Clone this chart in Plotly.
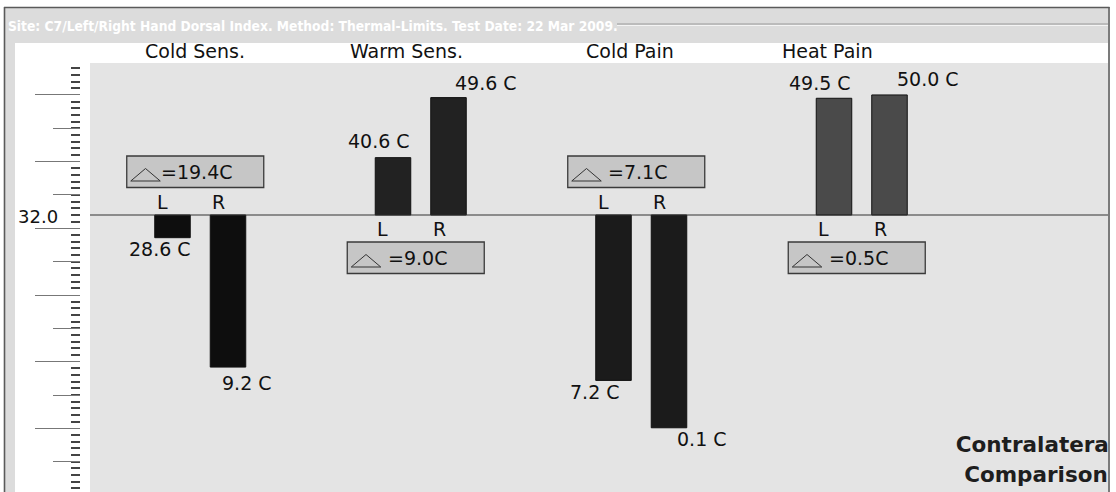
import plotly.graph_objects as go

# ---------------- data ----------------
TITLE = "Site: C7/Left/Right Hand Dorsal Index. Method: Thermal-Limits. Test Date: 22 Mar 2009."
CATEGORIES = ["Cold Sens.", "Warm Sens.", "Cold Pain", "Heat Pain"]
LEFT_VALUES = [28.6, 40.6, 7.2, 49.5]
RIGHT_VALUES = [9.2, 49.6, 0.1, 50.0]
BASELINE = 32.0
SIDE_LABELS = ["L", "R"]
NOTE_LINES = ["Contralateral", "Comparison"]

# ---------------- style / layout constants ----------------
BAR_COLORS = ["#0e0e0e", "#222222", "#1b1b1b", "#4a4a4a"]
FONT = "DejaVu Sans"
W, H = 1116, 492
PX_PER_DEG = 6.67
ZERO_PX = 215
PLOT_TOP, PLOT_LEFT, PLOT_RIGHT = 63, 90, 1108
GROUP_PX = 220.5
FIRST_GROUP_PX = 200.25
HEADER_DX = [-5, -14, -11, -34]
VALUE_DX = [[-72.5, 20.5], [-74, 33.5], [-72.5, 34.5], [-74, 34]]
VALUE_DY = [[11.5, 16], [16.5, 15], [12, 11], [15, 16]]
NOTE_CENTER_PX = 1036
NOTE_LINE_PX = [446.7, 476.7]


def px(x):
    return x / W


def py(y):
    return 1 - y / H


def val_at(ypx):
    return BASELINE - (ypx - ZERO_PX) / PX_PER_DEG


y_top = val_at(PLOT_TOP)
y_bot = val_at(H)
x_lo = (PLOT_LEFT - FIRST_GROUP_PX) / GROUP_PX
x_hi = (PLOT_RIGHT - FIRST_GROUP_PX) / GROUP_PX

xs = list(range(len(CATEGORIES)))

fig = go.Figure()
for vals, side in zip([LEFT_VALUES, RIGHT_VALUES], SIDE_LABELS):
    fig.add_trace(go.Bar(
        x=xs, y=[v - BASELINE for v in vals], base=BASELINE,
        marker=dict(color=BAR_COLORS, line=dict(color="#111111", width=1)),
        name=side, showlegend=False, hoverinfo="skip"))

# dummy traces for ruler axes
for ya in ["y2", "y3"]:
    fig.add_trace(go.Scatter(x=[None], y=[None], yaxis=ya, showlegend=False,
                             hoverinfo="skip", mode="markers"))

# bottom-right note, clipped by the plot area
note_x = (NOTE_CENTER_PX - FIRST_GROUP_PX) / GROUP_PX
fig.add_trace(go.Scatter(
    x=[note_x] * len(NOTE_LINES), y=[val_at(p) for p in NOTE_LINE_PX],
    mode="text", text=NOTE_LINES, textposition="middle center",
    textfont=dict(family=FONT, size=21.5, color="#1e1e1e", weight="bold"),
    cliponaxis=True, showlegend=False, hoverinfo="skip"))

shapes = []
annotations = []

# frame / backgrounds
shapes.append(dict(type="rect", xref="paper", yref="paper", x0=px(5), x1=px(1108), y0=py(8), y1=py(43),
                   fillcolor="#dcdcdc", line=dict(width=0), layer="below"))
shapes.append(dict(type="rect", xref="paper", yref="paper", x0=px(5), x1=px(15), y0=py(43), y1=py(H),
                   fillcolor="#dcdcdc", line=dict(width=0), layer="below"))
shapes.append(dict(type="line", xref="paper", yref="paper", x0=px(617), x1=px(1108), y0=py(24), y1=py(24),
                   line=dict(color="#9a9a9a", width=1), layer="above"))
shapes.append(dict(type="line", xref="paper", yref="paper", x0=px(617), x1=px(1108), y0=py(25.5), y1=py(25.5),
                   line=dict(color="#f4f4f4", width=1), layer="above"))
for (x0, y0, x1, y1) in [(4.5, 7, 4.5, H), (4, 7.5, 1109.5, 7.5), (1109, 7, 1109, H)]:
    shapes.append(dict(type="line", xref="paper", yref="paper", x0=px(x0), x1=px(x1), y0=py(y0), y1=py(y1),
                       line=dict(color="#5a5a5a", width=1.6), layer="above"))

# baseline
shapes.append(dict(type="line", xref="x domain", yref="y", x0=0, x1=1, y0=BASELINE, y1=BASELINE,
                   line=dict(color="#333333", width=1), layer="above"))

annotations.append(dict(text="32.0", xref="paper", yref="y", x=px(16), y=BASELINE, xanchor="left",
                        yanchor="middle", yshift=-1, showarrow=False,
                        font=dict(family=FONT, size=18, color="#111111")))

annotations.append(dict(text=TITLE, xref="paper", yref="paper", x=px(6), y=py(25.5), xanchor="left",
                        yanchor="middle", showarrow=False,
                        font=dict(family="Liberation Sans Narrow, DejaVu Sans Condensed, Arial Narrow, sans-serif",
                                  size=13.7, color="#ffffff", weight="bold")))

for g, cat in enumerate(CATEGORIES):
    annotations.append(dict(text=cat, xref="x", yref="paper", x=g, y=py(51), xshift=HEADER_DX[g],
                            xanchor="center", yanchor="middle", showarrow=False,
                            font=dict(family=FONT, size=19, color="#111111")))
    lv, rv = LEFT_VALUES[g], RIGHT_VALUES[g]
    up = 1 if (lv + rv) / 2 < BASELINE else -1  # labels above line when bars go down

    # L/R letters
    for side, dx in zip(SIDE_LABELS, [-44.5, 11]):
        annotations.append(dict(text=side, xref="x", yref="y", x=g, y=BASELINE, xshift=dx,
                                yshift=13.5 * up, xanchor="left", yanchor="middle", showarrow=False,
                                borderpad=0, font=dict(family=FONT, size=19, color="#111111")))

    # value labels
    for k, v in enumerate([lv, rv]):
        out = 1 if v >= BASELINE else -1
        annotations.append(dict(text=f"{v:.1f} C", xref="x", yref="y", x=g, y=v, xshift=VALUE_DX[g][k],
                                yshift=VALUE_DY[g][k] * out, xanchor="left", yanchor="middle",
                                showarrow=False, borderpad=0,
                                font=dict(family=FONT, size=19, color="#111111")))

    # delta box
    d = abs(lv - rv)
    top = 59 if up == 1 else -27
    shapes.append(dict(type="rect", xref="x", yref="y", xsizemode="pixel", ysizemode="pixel",
                       xanchor=g, yanchor=BASELINE, x0=-73.5, x1=63.5, y0=top, y1=top - 31.5,
                       fillcolor="#c6c6c6", line=dict(color="#3a3a3a", width=1.3), layer="above"))
    apex, base = top - 12.5, top - 25
    shapes.append(dict(type="path", xref="x", yref="y", xsizemode="pixel", ysizemode="pixel",
                       xanchor=g, yanchor=BASELINE,
                       path=f"M -69.5,{base} L -40,{base} L -54.75,{apex} Z",
                       fillcolor="rgba(0,0,0,0)", line=dict(color="#333333", width=1), layer="above"))
    annotations.append(dict(text=f"={d:.1f}C", xref="x", yref="y", x=g, y=BASELINE,
                            xshift=-40 + (6 if d < 10 else 0), yshift=top - 15.75,
                            xanchor="left", yanchor="middle", showarrow=False, borderpad=0,
                            font=dict(family=FONT, size=19, color="#111111")))

ruler_common = dict(overlaying="y", anchor="free", position=px(80), side="left", range=[y_bot, y_top],
                    domain=[0, py(PLOT_TOP)], showgrid=False, zeroline=False, showline=False,
                    showticklabels=False, ticks="outside", automargin=False, fixedrange=True)

fig.update_layout(
    width=W, height=H,
    margin=dict(l=0, r=0, t=0, b=0, pad=0),
    paper_bgcolor="#ffffff",
    plot_bgcolor="#e4e4e4",
    font=dict(family=FONT),
    barmode="group", bargap=0.4966, bargroupgap=0.36,
    showlegend=False,
    xaxis=dict(domain=[px(PLOT_LEFT), px(PLOT_RIGHT)], range=[x_lo, x_hi], showgrid=False,
               zeroline=False, showline=False, showticklabels=False, ticks="", automargin=False,
               fixedrange=True),
    yaxis=dict(domain=[0, py(PLOT_TOP)], range=[y_bot, y_top], showgrid=False, zeroline=False,
               showline=False, showticklabels=False, ticks="", automargin=False, fixedrange=True),
    yaxis2=dict(**ruler_common, tick0=0, dtick=10, ticklen=45, tickcolor="#777777", tickwidth=1,
                minor=dict(ticks="outside", tick0=0, dtick=1, ticklen=9, tickcolor="#444444",
                           tickwidth=1.5, showgrid=False)),
    yaxis3=dict(**ruler_common, tick0=5, dtick=10, ticklen=27, tickcolor="#777777", tickwidth=1),
    shapes=shapes,
    annotations=annotations,
)

fig.write_html("out.html", config={"displayModeBar": False},
               post_script="document.body.style.margin='0';document.body.style.overflow='hidden';")
